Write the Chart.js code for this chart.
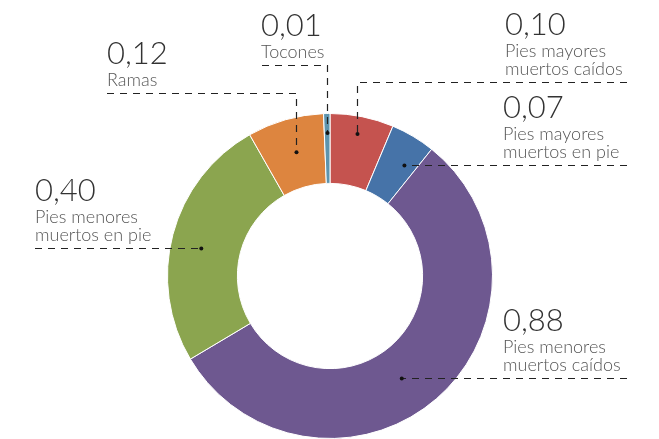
<!DOCTYPE html>
<html>
<head>
<meta charset="utf-8">
<script src="https://cdn.jsdelivr.net/npm/chart.js@4/dist/chart.umd.min.js"></script>
<style>
  html, body { margin: 0; padding: 0; background: #ffffff; }
  #wrap { width: 659px; height: 439px; position: relative; }
</style>
</head>
<body>
<div id="wrap"><canvas id="c" width="659" height="439"></canvas></div>
<script>
// Deadwood components (values shown with a comma decimal separator)
const categories = [
  'Pies mayores muertos caídos',
  'Pies mayores muertos en pie',
  'Pies menores muertos caídos',
  'Pies menores muertos en pie',
  'Ramas',
  'Tocones'
];
const values = [0.10, 0.07, 0.88, 0.40, 0.12, 0.01];
const colors = ['#c5534f', '#4673a8', '#6e5890', '#8ba54f', '#dd853f', '#5d94ae'];

// Callout placement: where the dot sits inside each slice (fraction along the
// slice angle, fraction of the outer radius) and how the leader runs to the text.
const callouts = [
  { f: 0.47, rf: 0.89, kind: 'elbow', lineY: 82,  textX: 505, lineEnd: 627 },
  { f: 0.70, rf: 0.82, kind: 'flat',  textX: 503, lineEnd: 627 },
  { f: 0.53, rf: 0.77, kind: 'flat',  textX: 503, lineEnd: 627 },
  { f: 0.47, rf: 0.81, kind: 'flat',  textX: 35,  lineEnd: 35 },
  { f: 0.52, rf: 0.79, kind: 'elbow', lineY: 93,  textX: 107, lineEnd: 107 },
  { f: 0.50, rf: 0.88, kind: 'elbow', lineY: 65,  textX: 261, lineEnd: 262 }
];

function formatValue(v) {
  return v.toFixed(2).replace('.', ',');
}
function wrapLabel(name) {
  const words = name.split(' ');
  if (words.length <= 2) return [name];
  return [words.slice(0, 2).join(' '), words.slice(2).join(' ')];
}

const calloutPlugin = {
  id: 'callouts',
  afterDraw(chart) {
    const ctx = chart.ctx;
    const meta = chart.getDatasetMeta(0);
    meta.data.forEach((arc, i) => {
      const c = callouts[i];
      const p = arc.getProps(['x', 'y', 'startAngle', 'endAngle', 'outerRadius'], true);
      const a = p.startAngle + c.f * (p.endAngle - p.startAngle);
      const r = p.outerRadius * c.rf;
      const dx = p.x + r * Math.cos(a);
      const dy = p.y + r * Math.sin(a);
      const lineY = c.kind === 'flat' ? dy : c.lineY;
      const ly = Math.round(lineY) + 0.5;
      const lx = Math.round(dx) + 0.5;

      ctx.save();
      ctx.strokeStyle = '#222222';
      ctx.lineWidth = 1.2;
      ctx.setLineDash([7, 6]);
      ctx.beginPath();
      if (c.kind === 'flat') {
        ctx.moveTo(c.lineEnd, ly);
        ctx.lineTo(dx, ly);
      } else {
        ctx.moveTo(c.lineEnd, ly);
        ctx.lineTo(lx, ly);
        ctx.lineTo(lx, dy);
      }
      ctx.stroke();
      ctx.setLineDash([]);
      ctx.fillStyle = '#111111';
      ctx.beginPath();
      ctx.arc(c.kind === 'flat' ? dx : lx, c.kind === 'flat' ? ly : dy, 2, 0, Math.PI * 2);
      ctx.fill();

      // text block sits just above the horizontal run of the leader
      const lines = wrapLabel(categories[i]);
      const lineGap = 18.5;
      const lastBase = lineY - 7;
      const firstBase = lastBase - (lines.length - 1) * lineGap;
      ctx.textAlign = 'left';
      ctx.textBaseline = 'alphabetic';
      ctx.fillStyle = '#555555';
      ctx.font = '300 18px Lato, "Open Sans", sans-serif';
      lines.forEach((t, k) => ctx.fillText(t, c.textX, firstBase + k * lineGap));
      ctx.fillStyle = '#333333';
      ctx.font = '300 31px Lato, "Open Sans", sans-serif';
      ctx.fillText(formatValue(values[i]), c.textX, firstBase - 22);
      ctx.restore();
    });
  }
};

new Chart(document.getElementById('c'), {
  type: 'doughnut',
  data: {
    labels: categories,
    datasets: [{
      data: values,
      backgroundColor: colors,
      borderColor: '#ffffff',
      borderWidth: 1
    }]
  },
  options: {
    responsive: false,
    animation: false,
    rotation: 0,
    cutout: '57%',
    layout: { padding: { top: 113, left: 1, right: 0, bottom: 0 } },
    plugins: {
      legend: { display: false },
      tooltip: { enabled: false }
    }
  },
  plugins: [calloutPlugin]
});
</script>
</body>
</html>
